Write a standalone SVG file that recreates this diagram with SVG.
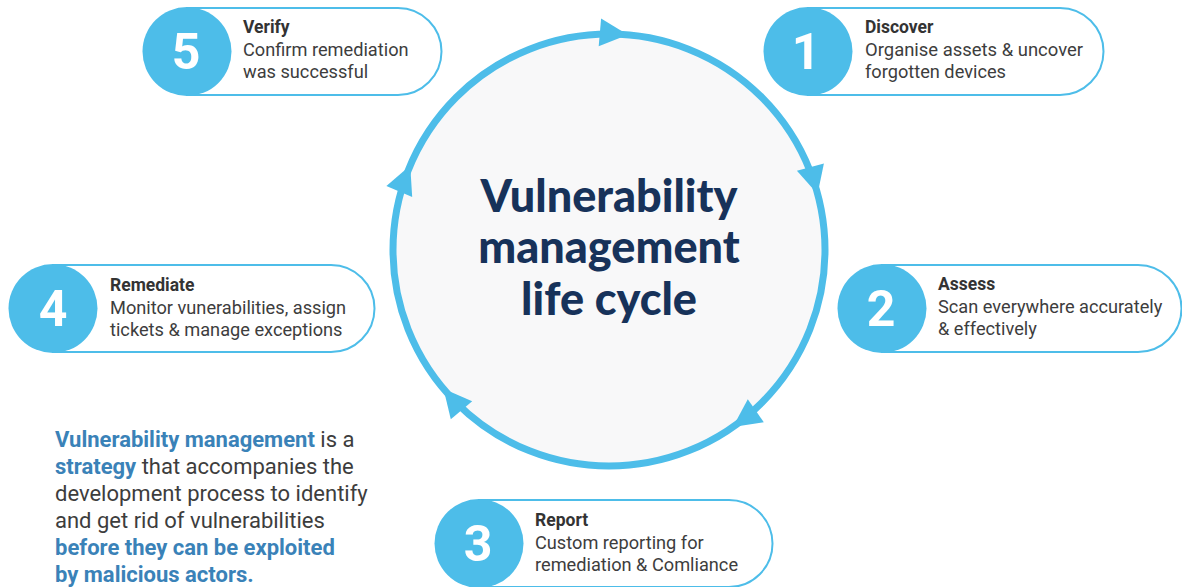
<svg xmlns="http://www.w3.org/2000/svg" width="1182" height="587" viewBox="0 0 1182 587">
<style>
.pill{fill:#ffffff;stroke:#4dbde9;stroke-width:2}
.num{fill:#4dbde9}
.numt{font-family:Roboto,"Liberation Sans",sans-serif;font-weight:bold;font-size:50px;fill:#ffffff;text-anchor:middle}
.hd{font-family:Roboto,"Liberation Sans",sans-serif;font-weight:bold;font-size:17.5px;fill:#333333}
.tx{font-family:Roboto,"Liberation Sans",sans-serif;font-size:18.2px;fill:#3d3d3d}
.title{font-family:Lato,"Open Sans",sans-serif;font-weight:900;font-size:45px;fill:#17325a;text-anchor:middle}
.para{font-family:Roboto,"Liberation Sans",sans-serif;font-size:22px;fill:#3d3d3d}
.b{font-weight:bold;fill:#3a82b8}
.arr{fill:#4dbde9}
</style>
<g id="cycle">
<circle cx="609" cy="250" r="216" fill="#f8f8f9" stroke="#4dbde9" stroke-width="7"/>
<text class="title" x="609" y="212">Vulnerability</text>
<text class="title" x="609" y="263">management</text>
<text class="title" x="609" y="315">life cycle</text>
</g>
<g id="connectors">
<polygon class="arr" points="627.8,34.8 601.1,18.5 598.7,46.3"/>
<polygon class="arr" points="817.6,194.1 823.9,163.5 796.9,170.7"/>
<polygon class="arr" points="732.9,426.9 763.8,422.3 747.8,399.3"/>
<polygon class="arr" points="443.5,388.8 450.8,419.2 472.2,401.2"/>
<polygon class="arr" points="410.2,165.6 386.4,185.9 412.2,196.9"/>
</g>
<g id="node5">
<path class="pill" d="M187,8 H398 A43.5,43.5 0 0 1 398,95 H187 Z"/>
<circle class="num" cx="187" cy="51.5" r="44.5"/>
<text class="numt" x="186" y="69">5</text>
<text class="hd" x="243" y="33">Verify</text>
<text class="tx" x="243" y="56">Confirm remediation</text>
<text class="tx" x="243" y="78">was successful</text>
</g>
<g id="node1">
<path class="pill" d="M808,8 H1060 A43.5,43.5 0 0 1 1060,95 H808 Z"/>
<circle class="num" cx="808" cy="51.5" r="44.5"/>
<text class="numt" x="806" y="69">1</text>
<text class="hd" x="865" y="33">Discover</text>
<text class="tx" x="865" y="56" textLength="218" lengthAdjust="spacingAndGlyphs">Organise assets &amp; uncover</text>
<text class="tx" x="865" y="78">forgotten devices</text>
</g>
<g id="node2">
<path class="pill" d="M882,265 H1138 A43.5,43.5 0 0 1 1138,352 H882 Z"/>
<circle class="num" cx="882" cy="308.5" r="44.5"/>
<text class="numt" x="881" y="326">2</text>
<text class="hd" x="938" y="290">Assess</text>
<text class="tx" x="938" y="313">Scan everywhere accurately</text>
<text class="tx" x="938" y="335">&amp; effectively</text>
</g>
<g id="node4">
<path class="pill" d="M53,265 H331 A43.5,43.5 0 0 1 331,352 H53 Z"/>
<circle class="num" cx="53" cy="308.5" r="44.5"/>
<text class="numt" x="53" y="326">4</text>
<text class="hd" x="110" y="291">Remediate</text>
<text class="tx" x="110" y="314">Monitor vunerabilities, assign</text>
<text class="tx" x="110" y="336">tickets &amp; manage exceptions</text>
</g>
<g id="node3">
<path class="pill" d="M479,500 H729 A43.5,43.5 0 0 1 729,587 H479 Z"/>
<circle class="num" cx="479" cy="543.5" r="44.5"/>
<text class="numt" x="478" y="561">3</text>
<text class="hd" x="535" y="526">Report</text>
<text class="tx" x="535" y="549">Custom reporting for</text>
<text class="tx" x="535" y="571">remediation &amp; Comliance</text>
</g>
<g id="description">
<text class="para" x="55" y="447"><tspan class="b">Vulnerability management</tspan> is a</text>
<text class="para" x="55" y="474"><tspan class="b">strategy</tspan> that accompanies the</text>
<text class="para" x="55" y="501">development process to identify</text>
<text class="para" x="55" y="528">and get rid of vulnerabilities</text>
<text class="para b" x="55" y="555">before they can be exploited</text>
<text class="para b" x="55" y="582">by malicious actors.</text>
</g>
</svg>
